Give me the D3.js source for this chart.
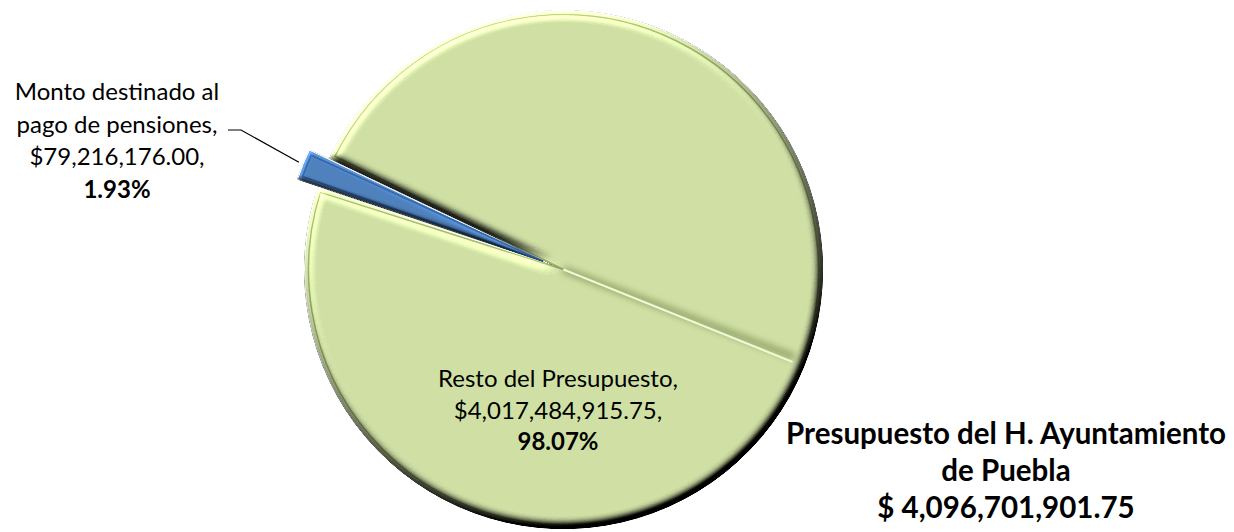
<!DOCTYPE html>
<html>
<head>
<meta charset="utf-8">
<script src="https://cdn.jsdelivr.net/npm/d3@7"></script>
<style>
  html, body { margin: 0; padding: 0; background: #fff; }
  svg { display: block; font-family: Lato, "Open Sans", sans-serif; }
</style>
</head>
<body>
<script>
// chart data
var categories = ['Monto destinado al pago de pensiones', 'Resto del Presupuesto'];
var amounts = [79216176.00, 4017484915.75];
var percents = ['1.93%', '98.07%'];
var totalLines = ['Presupuesto del H. Ayuntamiento', 'de Puebla', '$ 4,096,701,901.75'];
var colors = ['#4f81bd', '#d0e0a5'];
var rims = ['#2f5d97', '#8fa266'];

var width = 1234;
var height = 532;
var cx = 563.5, cy = 269.5, radius = 259;
var explode = 22;
var deg = Math.PI / 180;
var money = d3.format('$,.2f');

var data = categories.map(function (c, i) {
  return { name: c, value: amounts[i], pct: percents[i], color: colors[i], rim: rims[i] };
});

var pie = d3.pie().sort(null).value(function (d) { return d.value; })
  .startAngle(288.5 * deg).endAngle(288.5 * deg + 2 * Math.PI);
var arc = d3.arc().innerRadius(0).outerRadius(radius);
var inner = d3.arc().innerRadius(0).outerRadius(radius - 4).padAngle(8 / radius).padRadius(radius);
var edge = d3.arc().innerRadius(radius).outerRadius(radius);

var svg = d3.select('body').append('svg').attr('width', width).attr('height', height);
var defs = svg.append('defs');

function bevel(id, blur, scale) {
  var f = defs.append('filter').attr('id', id).attr('x', '-5%').attr('y', '-5%')
    .attr('width', '110%').attr('height', '110%').attr('color-interpolation-filters', 'sRGB');
  f.append('feGaussianBlur').attr('in', 'SourceAlpha').attr('stdDeviation', blur).attr('result', 'b');
  f.append('feDiffuseLighting').attr('in', 'b').attr('surfaceScale', scale).attr('diffuseConstant', 1)
    .attr('lighting-color', '#fff').attr('result', 'd')
    .append('feDistantLight').attr('azimuth', 240).attr('elevation', 45);
  f.append('feComposite').attr('in', 'SourceGraphic').attr('in2', 'd').attr('operator', 'arithmetic')
    .attr('k1', 1.414).attr('k2', 0).attr('k3', 0).attr('k4', 0);
}
bevel('bevel0', 2.5, 3);
bevel('bevel1', 5, 8);

var soft = defs.append('filter').attr('id', 'soft').attr('x', '-20%').attr('y', '-20%')
  .attr('width', '140%').attr('height', '140%');
soft.append('feGaussianBlur').attr('stdDeviation', 3);

var g = svg.append('g').attr('transform', 'translate(' + cx + ',' + cy + ')');
var arcs = pie(data);

function offset(d) {
  if (d.index !== 0) return [0, 0];
  var m = (d.startAngle + d.endAngle) / 2;
  return [Math.sin(m) * explode, -Math.cos(m) * explode];
}

var slice = g.selectAll('.slice').data(arcs).enter().append('g').attr('class', 'slice')
  .attr('transform', function (d) { return 'translate(' + offset(d) + ')'; })
  .attr('filter', function (d) { return 'url(#bevel' + d.index + ')'; });
slice.append('path').attr('d', arc).style('fill', function (d) { return d.data.color; })
  .style('stroke', '#fff').style('stroke-width', 1);
slice.append('path').attr('d', inner).style('fill', 'none')
  .style('stroke', function (d) { return d.data.rim; })
  .style('stroke-width', function (d) { return d.index === 0 ? 1.8 : 1.5; });

// bevel crease along the middle of the big slice
var big = arcs[1];
var mid = (big.startAngle + big.endAngle) / 2;
var tip = [Math.sin(mid) * (radius - 12), -Math.cos(mid) * (radius - 12)];
var nx = Math.cos(mid) * 5, ny = Math.sin(mid) * 5;
g.append('line').attr('x1', 0).attr('y1', 0).attr('x2', tip[0] - nx).attr('y2', tip[1] - ny)
  .style('stroke', '#7f9256').style('stroke-width', 8).style('opacity', 0.65).attr('filter', 'url(#soft)');
g.append('line').attr('x1', 0).attr('y1', 0).attr('x2', tip[0]).attr('y2', tip[1])
  .style('stroke', '#f2f9d4').style('stroke-width', 2);

// labels
function label(x, y, lines, bold, size, lh) {
  var t = svg.append('text').attr('text-anchor', 'middle').style('font-size', size + 'px').style('fill', '#000');
  lines.forEach(function (l, i) {
    t.append('tspan').attr('x', x).attr('y', y + i * lh).text(l)
      .style('font-weight', bold.indexOf(i) >= 0 ? 'bold' : 'normal');
  });
  return t;
}

var d0 = arcs[0];
label(117, 100, ['Monto destinado al', 'pago de pensiones,', money(d0.data.value) + ',', d0.data.pct],
  [3], 24, 32.5);
var d1 = arcs[1];
label(558, 387, [d1.data.name + ',', money(d1.data.value) + ',', d1.data.pct], [2], 24, 31.5);
label(1006, 444, totalLines, [0, 1, 2], 29.5, 37);

// leader line
var p = edge.centroid(d0);
var o = offset(d0);
svg.append('path')
  .attr('d', d3.line()([[228, 130], [241, 130], [cx + p[0] + o[0] - 4, cy + p[1] + o[1] - 2]]))
  .style('fill', 'none').style('stroke', '#000').style('stroke-width', 1.2);
</script>
</body>
</html>
